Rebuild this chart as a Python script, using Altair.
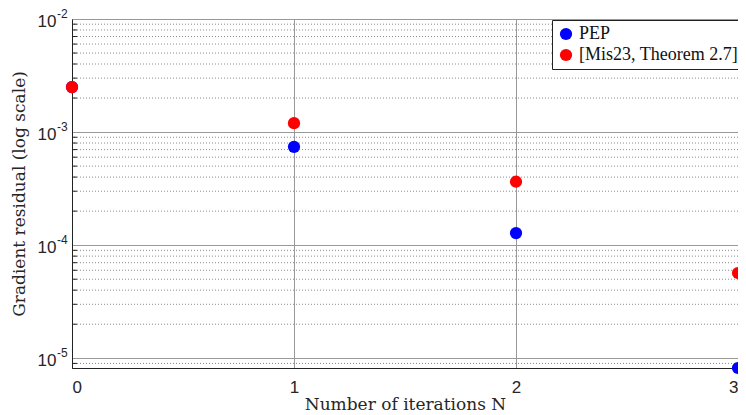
import altair as alt
import pandas as pd

iterations = [0, 1, 2, 3]
pep = [2.5e-3, 7.4e-4, 1.28e-4, 8.2e-6]
mis23 = [2.5e-3, 1.2e-3, 3.64e-4, 5.67e-5]
series_names = ["PEP", "[Mis23, Theorem 2.7]"]
series_colors = ["#0000ff", "#ff0000"]
major_ticks = [1e-5, 1e-4, 1e-3, 1e-2]
exponents = ["-5", "-4", "-3", "-2"]
minor_ticks = [9e-6] + [k * 10.0 ** e for e in (-5, -4, -3) for k in range(2, 10)]
x_ticks = [0, 1, 2, 3]

rows = []
for name, vals in zip(series_names, [pep, mis23]):
    for i, v in zip(iterations, vals):
        rows.append({"N": i, "value": v, "series": name})
df = pd.DataFrame(rows)
minor_df = pd.DataFrame({"v": minor_ticks})
exp_df = pd.DataFrame({"v": major_ticks, "e": exponents})

y_scale = alt.Scale(type="log", domain=[8.2e-6, 1e-2], nice=False)
x_scale = alt.Scale(domain=[0, 3], nice=False)

minor_grid = alt.Chart(minor_df).mark_rule(
    color="#8c8c8c", strokeDash=[1, 2], strokeWidth=1
).encode(y=alt.Y("v:Q", scale=y_scale))

minor_tick_marks = alt.Chart(minor_df).mark_rule(color="#222", strokeWidth=1).encode(
    y=alt.Y("v:Q", scale=y_scale), x=alt.value(0), x2=alt.value(5)
)

exp_text = alt.Chart(exp_df).mark_text(
    align="left", baseline="alphabetic", fontSize=12, font="Liberation Sans",
    color="#262626", dx=-15, dy=-1
).encode(y=alt.Y("v:Q", scale=y_scale), x=alt.value(0), text="e:N")

points = alt.Chart(df).mark_circle(size=150, opacity=1).encode(
    x=alt.X("N:Q", scale=x_scale,
            axis=alt.Axis(values=x_ticks, title="Number of iterations N", grid=True,
                          gridColor="#999", gridOpacity=1, tickSize=0, labelPadding=11,
                          labelFontSize=17, labelFont="Liberation Sans", labelColor="#262626",
                          titleFont="DejaVu Serif", titleFontSize=17, titleFontWeight="normal",
                          titleColor="#262626", titlePadding=1, domainColor="#222", format="d")),
    y=alt.Y("value:Q", scale=y_scale,
            axis=alt.Axis(values=major_ticks, labelExpr="'10'", title="Gradient residual (log scale)",
                          grid=True, gridColor="#999", gridOpacity=1, tickSize=0, labelPadding=16,
                          labelFontSize=17, labelFont="Liberation Sans", labelColor="#262626",
                          labelBaseline="middle", labelOffset=2,
                          titleFont="DejaVu Serif", titleFontSize=17, titleFontWeight="normal",
                          titleColor="#262626", titlePadding=9, domainColor="#222")),
    color=alt.Color("series:N", scale=alt.Scale(domain=series_names, range=series_colors),
                    sort=series_names,
                    legend=alt.Legend(title=None, orient="none", legendX=480, legendY=1,
                                      fillColor="white", strokeColor="#222", padding=5,
                                      symbolSize=150, symbolType="circle", labelFont="Liberation Serif",
                                      labelFontSize=18, labelColor="#111", rowPadding=3,
                                      symbolStrokeWidth=0)),
    order=alt.Order("series:N", sort="ascending"),
)

chart = alt.layer(minor_grid, minor_tick_marks, exp_text, points).properties(
    width=666, height=349,
    autosize=alt.AutoSizeParams(type="none"),
    padding={"left": 64, "top": 11, "right": 0, "bottom": 47},
).configure_view(stroke="#222", strokeWidth=1)

chart.save("out.html", embed_options={"renderer": "svg", "actions": False})
